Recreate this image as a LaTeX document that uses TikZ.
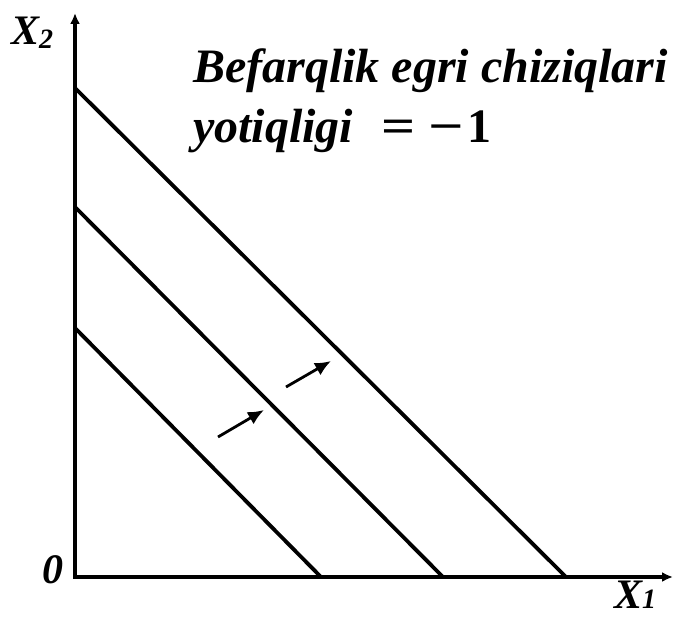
\documentclass[tikz,border=0pt]{standalone}
\usepackage{fontspec}
\setmainfont{Liberation Serif}
\usetikzlibrary{arrows.meta}
\newcommand{\mysub}[2]{\raisebox{#1}{\fontsize{28}{30}\selectfont #2}}
\begin{document}
\begin{tikzpicture}[x=1pt,y=-1pt,
  axisline/.style={line width=4pt, {Latex[length=11pt,width=10pt]}-{Latex[length=11pt,width=10pt]}},
  curveline/.style={line width=3.8pt},
  shiftarrow/.style={line width=2.8pt, -{Latex[length=16pt,width=14pt]}},
  lbl/.style={inner sep=0pt, font=\fontsize{42}{48}\selectfont\bfseries\itshape},
  title/.style={inner sep=0pt, anchor=base west, font=\fontsize{48}{56}\selectfont\bfseries\itshape},
  sym/.style={inner sep=0pt, anchor=base west, font=\fontsize{48}{56}\selectfont\bfseries}]
\useasboundingbox (0,0) rectangle (677,617);
% axes
\coordinate (O) at (75,577);
\coordinate (Ytop) at (75,13);
\coordinate (Xend) at (673,577);
\draw[axisline] (Ytop) -- (O) -- (Xend);
% indifference lines
\coordinate (a1) at (75,328); \coordinate (b1) at (321,577);
\coordinate (a2) at (75,207); \coordinate (b2) at (443,577);
\coordinate (a3) at (75,88);  \coordinate (b3) at (566,577);
\draw[curveline] (a1) -- (b1);
\draw[curveline] (a2) -- (b2);
\draw[curveline] (a3) -- (b3);
% shift arrows
\coordinate (s1) at (218,437); \coordinate (e1) at (264,410);
\coordinate (s2) at (286,387); \coordinate (e2) at (331,361);
\draw[shiftarrow] (s1) -- (e1);
\draw[shiftarrow] (s2) -- (e2);
% labels
\node[lbl, anchor=base west] (x2) at (11,45) {X\mysub{-4pt}{2}};
\node[lbl, anchor=base east] (zero) at (64,583) {0};
\node[lbl, anchor=base west] (x1) at (614,608) {X\mysub{0pt}{1}};
\node[title] (t1) at (193,83) {Befarqlik egri chiziqlari};
\node[title] (t2) at (193,143) {yotiqligi};
\node[sym] (eq) at (381,143) {\scalebox{1.25}[1]{=}};
\node[sym] (minus) at (428,143) {\scalebox{1.3}[1]{−}};
\node[sym] (one) at (467,143) {1};
\end{tikzpicture}
\end{document}
